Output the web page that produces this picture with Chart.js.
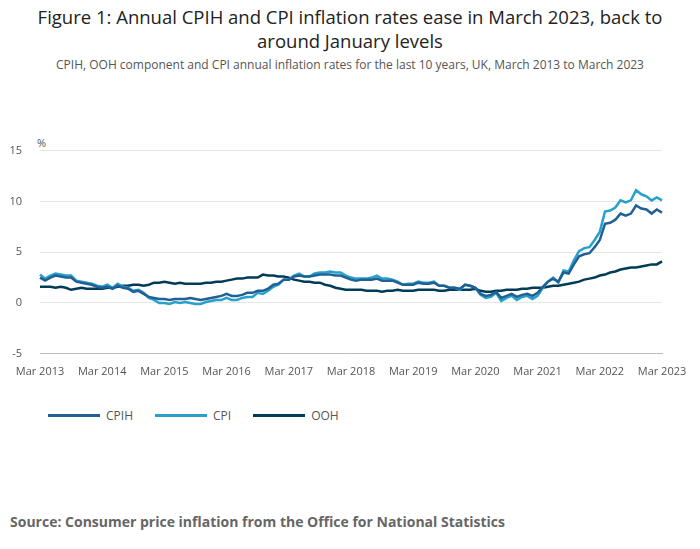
<!DOCTYPE html>
<html>
<head>
<meta charset="utf-8">
<script src="https://cdn.jsdelivr.net/npm/chart.js@4"></script>
<style>
  body { margin: 0; width: 700px; height: 549px; background: #fff; font-family: "Open Sans", sans-serif; position: relative; overflow: hidden; }
  h1 { position: absolute; top: 5px; left: 30px; width: 640px; margin: 0; text-align: center; font-weight: normal; font-size: 18.5px; line-height: 24px; color: #222; }
  .sub { position: absolute; top: 56px; width: 700px; text-align: center; font-size: 12px; color: #555; }
  .unit { position: absolute; top: 135px; left: 37px; font-size: 11px; color: #555; }
  #wrap { position: absolute; top: 126px; left: 0; width: 700px; height: 255px; }
  #legend { position: absolute: top: 408px; }
  #legend { position: absolute; top: 407px; left: 48px; font-size: 12px; color: #555; display: flex; }
  #legend span.item { display: flex; align-items: center; margin-right: 22px; }
  #legend span.sw { display: inline-block; width: 52px; height: 3px; margin-right: 6px; }
  .src { position: absolute; top: 512px; left: 10px; font-size: 14px; font-weight: bold; color: #666; }
</style>
</head>
<body>
<h1>Figure 1: Annual CPIH and CPI inflation rates ease in March 2023, back to around January levels</h1>
<div class="sub">CPIH, OOH component and CPI annual inflation rates for the last 10 years, UK, March 2013 to March 2023</div>
<div class="unit">%</div>
<div id="wrap"><canvas id="chart"></canvas></div>
<div id="legend"></div>
<div class="src">Source: Consumer price inflation from the Office for National Statistics</div>
<script>
var months = ["Jan","Feb","Mar","Apr","May","Jun","Jul","Aug","Sep","Oct","Nov","Dec"];
var labels = [];
for (var y = 2013; y <= 2023; y++) {
  for (var m = 0; m < 12; m++) {
    if ((y == 2013 && m < 2) || (y == 2023 && m > 2)) continue;
    labels.push(months[m] + " " + y);
  }
}

var cpih = [
  2.5,2.2,2.5,2.7,2.6,2.5,2.5,2.1,2.0,1.9,
  1.8,1.6,1.5,1.6,1.4,1.7,1.5,1.4,1.1,1.2,0.9,0.6,
  0.5,0.4,0.4,0.3,0.4,0.4,0.4,0.5,0.4,0.3,0.4,0.5,
  0.6,0.7,0.9,0.7,0.7,0.8,1.0,1.0,1.2,1.2,1.4,1.8,
  1.9,2.3,2.3,2.6,2.7,2.6,2.6,2.7,2.8,2.8,2.8,2.7,
  2.7,2.5,2.3,2.2,2.3,2.3,2.3,2.4,2.2,2.2,2.2,2.0,
  1.8,1.8,1.8,2.0,1.9,1.9,2.0,1.7,1.7,1.5,1.5,1.4,
  1.8,1.7,1.5,0.9,0.7,0.8,1.1,0.5,0.7,0.9,0.6,0.8,
  0.9,0.7,1.0,1.6,2.1,2.4,2.1,3.0,2.9,3.8,4.6,4.8,
  4.9,5.5,6.2,7.8,7.9,8.2,8.8,8.6,8.8,9.6,9.3,9.2,
  8.8,9.2,8.9
];
var cpi = [
  2.8,2.4,2.7,2.9,2.8,2.7,2.7,2.2,2.1,2.0,
  1.9,1.7,1.6,1.8,1.5,1.9,1.6,1.5,1.2,1.3,1.0,0.5,
  0.3,0.0,0.0,-0.1,0.1,0.0,0.1,0.0,-0.1,-0.1,0.1,0.2,
  0.3,0.3,0.5,0.3,0.3,0.5,0.6,0.6,1.0,0.9,1.2,1.6,
  1.8,2.3,2.3,2.7,2.9,2.6,2.6,2.9,3.0,3.0,3.1,3.0,
  3.0,2.7,2.5,2.4,2.4,2.4,2.5,2.7,2.4,2.4,2.3,2.1,
  1.8,1.9,1.9,2.1,2.0,2.0,2.1,1.7,1.7,1.5,1.5,1.3,
  1.8,1.7,1.5,0.8,0.5,0.6,1.0,0.2,0.5,0.7,0.3,0.6,
  0.7,0.4,0.7,1.5,2.1,2.5,2.0,3.2,3.1,4.2,5.1,5.4,
  5.5,6.2,7.0,9.0,9.1,9.4,10.1,9.9,10.1,11.1,10.7,10.5,
  10.1,10.4,10.1
];
var ooh = [
  1.6,1.6,1.6,1.5,1.6,1.5,1.3,1.4,1.5,1.4,
  1.4,1.4,1.4,1.5,1.5,1.6,1.7,1.7,1.8,1.8,1.7,1.8,
  2.0,2.0,2.1,2.0,1.9,2.0,1.9,1.9,1.9,1.9,2.0,2.0,
  2.1,2.1,2.2,2.3,2.4,2.4,2.5,2.5,2.5,2.8,2.7,2.7,
  2.6,2.6,2.5,2.3,2.2,2.1,2.1,2.0,2.0,1.8,1.7,1.5,
  1.4,1.3,1.3,1.3,1.3,1.2,1.2,1.2,1.1,1.2,1.2,1.3,
  1.2,1.2,1.2,1.3,1.3,1.3,1.3,1.2,1.2,1.3,1.3,1.3,
  1.3,1.3,1.4,1.2,1.1,1.1,1.2,1.2,1.3,1.3,1.3,1.4,
  1.4,1.5,1.5,1.5,1.6,1.7,1.7,1.8,1.9,2.0,2.1,2.3,
  2.4,2.5,2.7,2.8,3.0,3.1,3.3,3.4,3.5,3.5,3.6,3.7,
  3.8,3.8,4.1
];

var series = [
  { label: "CPIH", data: cpih, color: "#206095" },
  { label: "CPI", data: cpi, color: "#27a0cc" },
  { label: "OOH", data: ooh, color: "#003c57" }
];

var legend = document.getElementById("legend");
series.forEach(function (s) {
  legend.innerHTML += '<span class="item"><span class="sw" style="background:' + s.color + '"></span>' + s.label + '</span>';
});

new Chart(document.getElementById("chart"), {
  type: "line",
  data: {
    labels: labels,
    datasets: series.map(function (s) {
      return { label: s.label, data: s.data, borderColor: s.color, borderWidth: 2.5, pointRadius: 0, tension: 0 };
    })
  },
  options: {
    responsive: true,
    maintainAspectRatio: false,
    animation: false,
    layout: { padding: { left: 0, right: 38, top: 6 } },
    plugins: { legend: { display: false }, tooltip: { enabled: false } },
    scales: {
      x: {
        offset: false,
        grid: { display: false, drawOnChartArea: false },
        border: { color: "#bbb" },
        ticks: {
          autoSkip: false, maxRotation: 0, color: "#555", font: { family: "Open Sans", size: 11 },
          callback: function (v, i) { return i % 12 == 0 ? labels[i] : null; }
        }
      },
      y: {
        min: -5, max: 15,
        afterFit: function (a) { a.width = 40; },
        grid: { color: "#e6e6e6", drawTicks: false },
        border: { display: false },
        ticks: { stepSize: 5, padding: 18, color: "#555", font: { family: "Open Sans", size: 11 } }
      }
    }
  }
});
</script>
</body>
</html>
